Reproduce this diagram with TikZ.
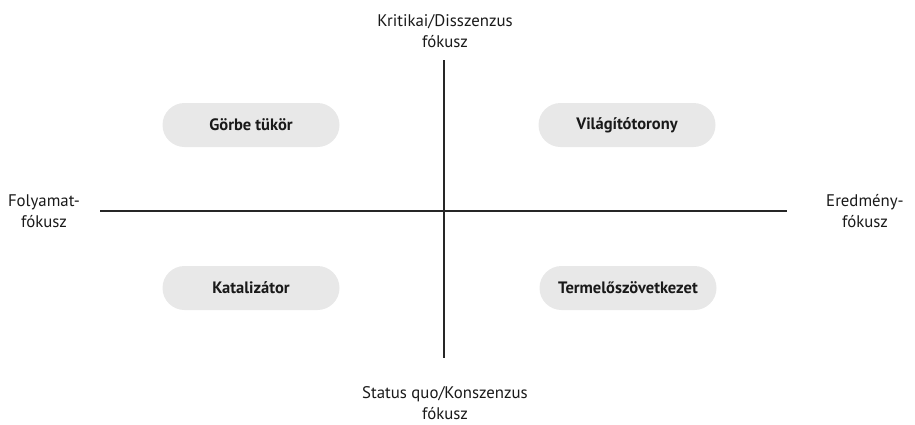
\documentclass[tikz,border=0pt]{standalone}
\usepackage{fontspec}
\setmainfont{PT Sans}
\begin{document}
\begin{tikzpicture}[x=1pt,y=-1pt,
  axis/.style={draw=black!85,line width=1.1pt},
  pill/.style={fill=black!9,rounded corners=22pt,minimum width=177pt,minimum height=44pt,inner sep=0pt,font=\fontsize{16.5}{18}\selectfont\bfseries,text=black!90},
  lbl/.style={align=center,font=\fontsize{16.8}{21.5}\selectfont,text=black!90}]
\useasboundingbox (0,0) rectangle (915,424);
\coordinate (T) at (444,60);
\coordinate (B) at (444,358);
\coordinate (L) at (100,211);
\coordinate (R) at (787,211);
\draw[axis] (T) -- (B);
\draw[axis] (L) -- (R);
\node[pill] (gt) at (251,125) {Görbe tükör};
\node[pill] (vt) at (627,125) {Világítótorony};
\node[pill] (kat) at (251,288) {Katalizátor};
\node[pill] (tsz) at (628,288) {Termelőszövetkezet};
\node[lbl] (top) at (445,31) {Kritikai/Disszenzus\\fókusz};
\node[lbl] (bot) at (445,403) {Status quo/Konszenzus\\fókusz};
\node[lbl] (lft) at (44,211) {Folyamat-\\fókusz};
\node[lbl] (rgt) at (865,211) {Eredmény-\\fókusz};
\end{tikzpicture}
\end{document}
